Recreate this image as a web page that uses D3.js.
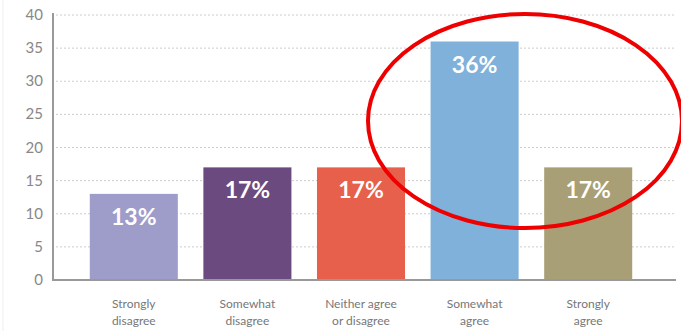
<!DOCTYPE html>
<html><head><meta charset="utf-8">
<script src="https://cdn.jsdelivr.net/npm/d3@7"></script>
<style>body{margin:0;background:#fff}svg{display:block}</style>
</head><body>
<svg id="c" width="681" height="331"></svg>
<script>
const categories = [["Strongly","disagree"],["Somewhat","disagree"],["Neither agree","or disagree"],["Somewhat","agree"],["Strongly","agree"]];
const values = [13, 17, 17, 36, 17];
const labels = ["13%","17%","17%","36%","17%"];
const colors = ["#9e9cc9","#6b4b7f","#e6604b","#80b1da","#a99f76"];
const yTicks = [0,5,10,15,20,25,30,35,40];

const svg = d3.select("#c");
const x = d3.scaleBand().domain(d3.range(values.length)).range([77, 645]).paddingInner(0.225).paddingOuter(0.1125);
const y = d3.scaleLinear().domain([0, 40]).range([280, 15]);

// faint left border
svg.append("line").attr("x1",3).attr("x2",3).attr("y1",0).attr("y2",331).attr("stroke","#eee").attr("stroke-width",1);

// grid
svg.append("g").selectAll("line").data(yTicks.filter(d=>d>0)).join("line")
  .attr("x1",56).attr("x2",675).attr("y1",d=>y(d)).attr("y2",d=>y(d))
  .attr("stroke","#ccc").attr("stroke-width",1).attr("stroke-dasharray","2,2");

// y tick labels
svg.append("g").selectAll("text").data(yTicks).join("text")
  .attr("x",43).attr("y",d=>y(d)+5).attr("text-anchor","end")
  .attr("font-family","Lato, 'Open Sans', sans-serif").attr("font-size",15).attr("fill","#888")
  .text(d=>d);

// bars
svg.append("g").selectAll("rect").data(values).join("rect")
  .attr("x",(d,i)=>x(i)).attr("width",x.bandwidth())
  .attr("y",d=>y(d)).attr("height",d=>y(0)-y(d))
  .attr("fill",(d,i)=>colors[i]);

// value labels
svg.append("g").selectAll("text").data(values).join("text")
  .attr("x",(d,i)=>x(i)+x.bandwidth()/2).attr("y",d=>y(d)+31)
  .attr("text-anchor","middle").attr("font-family","Lato, 'Open Sans', sans-serif")
  .attr("font-weight",700).attr("font-size",23).attr("fill","#fff")
  .text((d,i)=>labels[i]);

// axes lines
svg.append("line").attr("x1",53).attr("x2",53).attr("y1",13).attr("y2",281).attr("stroke","#999").attr("stroke-width",2);
svg.append("line").attr("x1",52).attr("x2",676).attr("y1",280).attr("y2",280).attr("stroke","#999").attr("stroke-width",2);

// category labels
const cg = svg.append("g").selectAll("text").data(categories).join("text")
  .attr("x",(d,i)=>x(i)+x.bandwidth()/2).attr("y",308)
  .attr("text-anchor","middle").attr("font-family","Lato, 'Open Sans', sans-serif")
  .attr("font-size",12).attr("fill","#777");
cg.selectAll("tspan").data(d=>d).join("tspan")
  .attr("x",function(){return this.parentNode.getAttribute("x");})
  .attr("dy",(d,i)=>i===0?0:17).text(d=>d);

// red ellipse highlight
svg.append("ellipse").attr("cx",525).attr("cy",121).attr("rx",157).attr("ry",107)
  .attr("fill","none").attr("stroke","#ee0000").attr("stroke-width",4);
</script>
</body></html>
